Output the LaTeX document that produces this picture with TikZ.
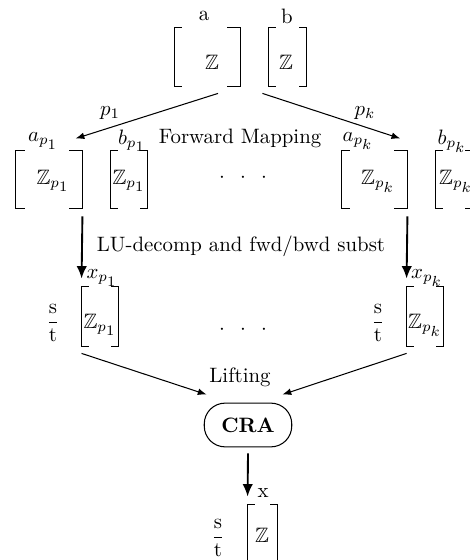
\documentclass[tikz,border=0pt]{standalone}
\usepackage{amsmath,amssymb}
\usetikzlibrary{arrows.meta,calc}
\tikzset{
  bk/.style 2 args={draw=none,inner sep=0pt,minimum width={#1*0.48pt},minimum height={#2*0.48pt}},
  lbl/.style={inner sep=0pt},
  brkline/.style={line width=0.5pt,line cap=butt},
  thinarr/.style={line width=0.5pt,-{Latex[length=4.3pt,width=3.2pt]}},
  thickarr/.style={line width=0.9pt,-{Latex[length=6pt,width=5pt]}},
  crabox/.style={draw,line width=0.5pt,rounded corners=10pt,minimum width=42pt,minimum height=21pt,inner sep=0pt}
}
\newcommand{\drawbrk}[3]{%
  \draw[brkline] ($(#1.north west)+(#2,0)$) -- (#1.north west) -- (#1.south west) -- ++(#2,0);
  \draw[brkline] ($(#1.north east)+(-#3,0)$) -- (#1.north east) -- (#1.south east) -- ++(-#3,0);}
\newcommand{\pone}{p_{\scriptstyle 1}}
\newcommand{\pk}{p_{\scriptstyle k}}
\begin{document}
\begin{tikzpicture}[x=0.48pt,y=-0.48pt]
\useasboundingbox (0,0) rectangle (469,560);
% bracket frames
\node[bk={65}{58}] (A) at (207.5,57) {};
\node[bk={37}{58}] (B) at (287.5,57) {};
\node[bk={66}{57}] (Ap1) at (49,179.5) {};
\node[bk={36}{57}] (Bp1) at (129,179.5) {};
\node[bk={65}{57}] (Apk) at (374.5,179.5) {};
\node[bk={36}{57}] (Bpk) at (454,179.5) {};
\node[bk={36}{59}] (Xp1) at (100,316.5) {};
\node[bk={36}{59}] (Xpk) at (425,316.5) {};
\node[bk={29}{58}] (X) at (262.5,534) {};
\drawbrk{A}{7}{13}
\drawbrk{B}{7}{7}
\drawbrk{Ap1}{9}{13}
\drawbrk{Bp1}{7}{7}
\drawbrk{Apk}{8}{13}
\drawbrk{Bpk}{7}{7}
\drawbrk{Xp1}{7}{7}
\drawbrk{Xpk}{7}{7}
\drawbrk{X}{7}{7}
% contents
\node[lbl] (zA) at (212,62) {$\mathbb{Z}$};
\node[lbl] (zB) at (286,62) {$\mathbb{Z}$};
\node[lbl] (zAp1) at (53,181) {$\mathbb{Z}_{\pone}$};
\node[lbl] (zBp1) at (129,181) {$\mathbb{Z}_{\pone}$};
\node[lbl] (zApk) at (378,181) {$\mathbb{Z}_{\pk}$};
\node[lbl] (zBpk) at (456,181) {$\mathbb{Z}_{\pk}$};
\node[lbl] (zXp1) at (100,325) {$\mathbb{Z}_{\pone}$};
\node[lbl] (zXpk) at (425,325) {$\mathbb{Z}_{\pk}$};
\node[lbl] (zX) at (262,535) {$\mathbb{Z}$};
% labels
\node[lbl] (la) at (204,16) {a};
\node[lbl] (lb) at (287,16) {b};
\node[lbl] (lap1) at (43,141) {$a_{\pone}$};
\node[lbl] (lbp1) at (132,141) {$b_{\pone}$};
\node[lbl] (lapk) at (358,141) {$a_{\pk}$};
\node[lbl] (lbpk) at (452,141) {$b_{\pk}$};
\node[lbl] (fm) at (240,138) {Forward Mapping};
\node[lbl] (dots1) at (243,178) {$\cdot$\hspace{7.3pt}$\cdot$\hspace{7.3pt}$\cdot$};
\node[lbl] (dots2) at (243,330) {$\cdot$\hspace{7.3pt}$\cdot$\hspace{7.3pt}$\cdot$};
\node[lbl] (lp1) at (110,113) {$p_1$};
\node[lbl] (lpk) at (365,113) {$p_k$};
\node[lbl] (lu) at (241,246) {LU-decomp and fwd/bwd subst};
\node[lbl] (lxp1) at (102,278) {$x_{\pone}$};
\node[lbl] (lxpk) at (427,278) {$x_{\pk}$};
\node[lbl] (st1) at (53,323) {$\dfrac{\mathrm{s}}{\mathrm{t}}$};
\node[lbl] (st2) at (378,323) {$\dfrac{\mathrm{s}}{\mathrm{t}}$};
\node[lbl] (st3) at (218,538) {$\dfrac{\mathrm{s}}{\mathrm{t}}$};
\node[lbl] (lift) at (240,377) {Lifting};
\node[crabox] (cra) at (248,425) {\textbf{CRA}};
\node[lbl] (lx) at (263,493) {x};
% connectors
\draw[thinarr] ($(A.south)+(10.5,7)$) -- ($(Ap1.north east)+(-7,-12)$);
\draw[thinarr] ($(A.south east)+(22,7)$) -- ($(Apk.north east)+(-7,-12)$);
\draw[thickarr] ($(Ap1.south east)+(0,8)$) -- ($(Xp1.north west)+(0,-8)$);
\draw[thickarr] ($(Apk.south east)+(0,8)$) -- ($(Xpk.north west)+(0,-8)$);
\draw[thinarr] ($(Xp1.south west)+(0,7)$) -- ($(cra.north west)+(3,-8)$);
\draw[thinarr] ($(Xpk.south west)+(0,7)$) -- ($(cra.north east)+(-10,-8)$);
\draw[thickarr] ($(cra.south)+(0,6)$) -- ($(X.north west)+(0,-8)$);
\end{tikzpicture}
\end{document}
